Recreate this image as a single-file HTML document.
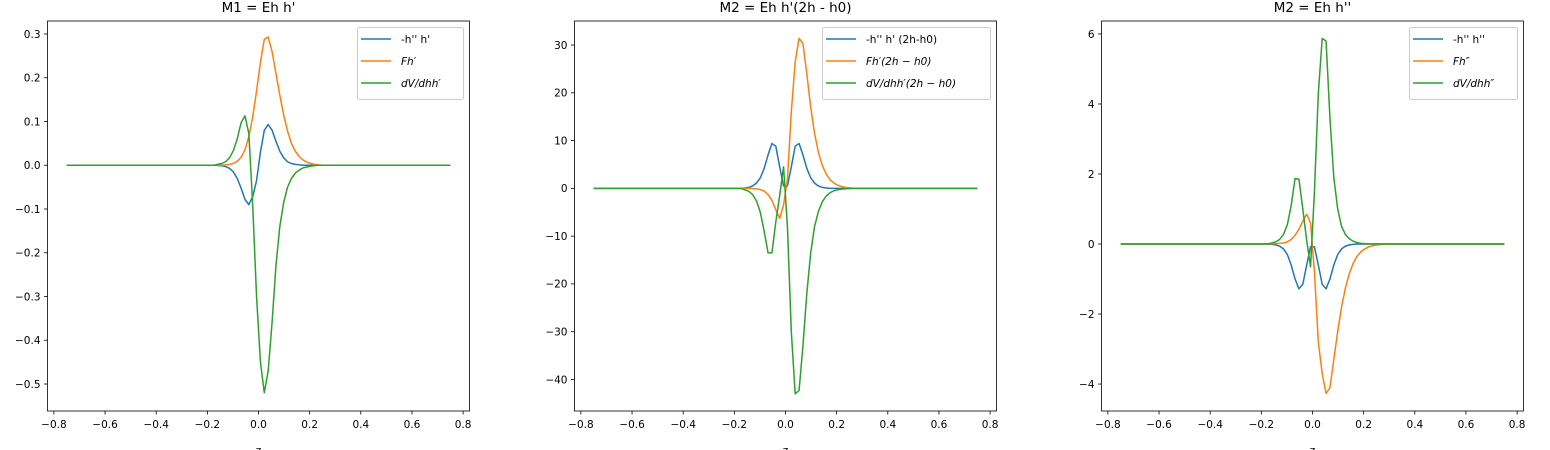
<!DOCTYPE html>
<html><head><meta charset="utf-8">
<style>
html,body{margin:0;padding:0;background:#fff;}
svg{display:block;font-family:"DejaVu Sans","Liberation Sans",sans-serif;}
</style></head>
<body>
<svg id="fig" width="1550" height="450" viewBox="0 0 1550 450"></svg>
<script>
const z = [-0.75,
 -0.3106,-0.2955,-0.2803,-0.2652,-0.25,-0.2348,-0.2197,-0.2045,-0.1894,-0.1742,
 -0.1591,-0.1439,-0.1288,-0.1136,-0.0985,-0.0833,-0.0682,-0.053,-0.0379,-0.0227,-0.0076,
 0.0076,0.0227,0.0379,0.053,0.0682,0.0833,0.0985,0.1136,0.1288,0.1439,0.1591,
 0.1742,0.1894,0.2045,0.2197,0.2348,0.25,0.2652,0.2803,0.2955,0.3106,
 0.75];
const Z11 = [0,0,0,0,0,0,0,0,0,0,0];
// Panel 1: M1 = Eh h'
const p1Blue = [...Z11,
 -0.0005,-0.001,-0.003,-0.007,-0.015,-0.03,-0.052,-0.078,-0.09,-0.072,-0.035,
 0.03,0.08,0.093,0.08,0.055,0.032,0.017,0.008,0.004,0.002,0.001,
 0,0,0,0,0,0,0,0,0,0,0];
const p1Orange = [...Z11,
 0,0,0.001,0.002,0.004,0.009,0.018,0.035,0.065,0.11,0.17,
 0.235,0.288,0.293,0.26,0.21,0.16,0.115,0.078,0.05,0.032,0.02,
 0.012,0.007,0.004,0.002,0.001,0,0,0,0,0,0];
const p1Green = [...Z11,
 0.002,0.004,0.008,0.017,0.033,0.06,0.097,0.113,0.073,-0.09,-0.30,
 -0.45,-0.52,-0.47,-0.36,-0.23,-0.14,-0.085,-0.05,-0.03,-0.018,-0.011,
 -0.006,-0.004,-0.002,-0.001,0,0,0,0,0,0,0];
// Panel 2: M2 = Eh h'(2h - h0)
const p2Blue = [...Z11,
 0.08,0.2,0.5,1.1,2.2,4.2,7,9.4,8.8,4.5,0.5,
 0.5,4.5,8.8,9.4,7,4.2,2.2,1.1,0.5,0.2,0.08,
 0,0,0,0,0,0,0,0,0,0,0];
const p2Orange = [...Z11,
 0,0,-0.03,-0.1,-0.25,-0.6,-1.3,-2.5,-4.5,-6.3,-3.5,
 2,16,26.5,31.4,30.3,24,17,11.5,7.5,4.8,3,
 1.8,1.1,0.65,0.38,0.2,0.1,0.05,0,0,0,0];
const p2Green = [...Z11,
 -0.3,-0.6,-1.3,-2.6,-5,-9,-13.5,-13.5,-7,-1.5,4.5,
 -8,-30,-43,-42.3,-33,-22,-13.5,-8,-4.8,-2.8,-1.6,
 -0.9,-0.5,-0.28,-0.15,-0.08,-0.04,0,0,0,0,0];
// Panel 3: M2 = Eh h''
const p3Blue = [...Z11,
 -0.01,-0.025,-0.06,-0.14,-0.3,-0.6,-1.0,-1.28,-1.15,-0.6,-0.08,
 -0.08,-0.6,-1.15,-1.28,-1.0,-0.6,-0.3,-0.14,-0.06,-0.025,-0.01,
 0,0,0,0,0,0,0,0,0,0,0];
const p3Orange = [...Z11,
 0.005,0.01,0.02,0.03,0.06,0.13,0.25,0.42,0.65,0.85,0.6,
 -0.8,-2.8,-3.7,-4.27,-4.1,-3.3,-2.5,-1.8,-1.25,-0.85,-0.55,
 -0.35,-0.22,-0.14,-0.08,-0.05,-0.03,-0.015,-0.008,0,0,0];
const p3Green = [...Z11,
 0.03,0.06,0.13,0.27,0.55,1.1,1.87,1.85,1.0,0.1,-0.65,
 1.5,4.3,5.87,5.8,3.6,1.9,1.0,0.5,0.27,0.15,0.08,
 0.04,0.02,0.01,0,0,0,0,0,0,0,0];

const xTicks = [-0.8,-0.6,-0.4,-0.2,0.0,0.2,0.4,0.6,0.8];
const xTickLabels = ["\u22120.8","\u22120.6","\u22120.4","\u22120.2","0.0","0.2","0.4","0.6","0.8"];
const p1YTicks = [-0.5,-0.4,-0.3,-0.2,-0.1,0.0,0.1,0.2,0.3];
const p2YTicks = [-40,-30,-20,-10,0,10,20,30];
const p3YTicks = [-4,-2,0,2,4,6];
const titles = ["M1 = Eh h'","M2 = Eh h'(2h - h0)","M2 = Eh h''"];

const NS="http://www.w3.org/2000/svg";
const svg=document.getElementById('fig');
function mk(tag,attrs,parent){const e=document.createElementNS(NS,tag);for(const k in attrs)e.setAttribute(k,attrs[k]);(parent||svg).appendChild(e);return e;}
const colors=["#1f77b4","#ff7f0e","#2ca02c"];

function fmtY(v,dec){let s=v.toFixed(dec);if(v<0)s="\u2212"+s.slice(1);return s;}

const panels=[
 {left:47.5,series:[p1Blue,p1Orange,p1Green],ymin:-0.5617,ymax:0.3297,yt:p1YTicks,dec:1,
  legend:{x:357,w:106,labels:[["-h'' h'",false],["Fh\u2032",true],["dV/dhh\u2032",true]]}},
 {left:574.5,series:[p2Blue,p2Orange,p2Green],ymin:-46.6,ymax:35.03,yt:p2YTicks,dec:0,
  legend:{x:822,w:168,labels:[["-h'' h' (2h-h0)",false],["Fh\u2032(2h \u2212 h0)",true],["dV/dhh\u2032(2h \u2212 h0)",true]]}},
 {left:1101.5,series:[p3Blue,p3Orange,p3Green],ymin:-4.77,ymax:6.37,yt:p3YTicks,dec:0,
  legend:{x:1409,w:108,labels:[["-h'' h''",false],["Fh\u2033",true],["dV/dhh\u2033",true]]}}
];
const axTop=21, axBottom=411, W=422;

panels.forEach((p,pi)=>{
  const g=mk('g',{});
  
  
  const xmin=-0.825,xmax=0.825;
  const X=v=>p.left+(v-xmin)/(xmax-xmin)*W;
  const Y=v=>axBottom-(v-p.ymin)/(p.ymax-p.ymin)*(axBottom-axTop);
  const t=mk('text',{x:p.left+W/2,y:12,'text-anchor':'middle','font-size':'13.5',fill:'#000'},g);
  t.textContent=titles[pi];
  
  
  const sg=mk('g',{},g);
  p.series.forEach((s,si)=>{
    const d=s.map((v,i)=>(i?'L':'M')+X(z[i]).toFixed(2)+' '+Y(v).toFixed(2)).join(' ');
    const path=mk('path',{d:d,fill:'none',stroke:colors[si],'stroke-width':1.5,'stroke-linejoin':'round'},sg);
    
    
  });
  const fr=mk('rect',{x:p.left,y:axTop,width:W,height:axBottom-axTop,fill:'none',stroke:'#000','stroke-width':0.8},g);
  
  
  xTicks.forEach((v,i)=>{
    const x=X(v);
    mk('line',{x1:x,x2:x,y1:axBottom,y2:axBottom+3.5,stroke:'#000','stroke-width':0.8},g);
    const tl=mk('text',{x:x,y:axBottom+17,'text-anchor':'middle','font-size':'10.5',fill:'#000'},g);
    tl.textContent=xTickLabels[i];
    
    
  });
  const xl=mk('text',{x:p.left+W/2,y:axBottom+43,'text-anchor':'middle','font-size':'10.5',fill:'#000'},g);
  xl.textContent='z';
  
  
  p.yt.forEach(v=>{
    const y=Y(v);
    mk('line',{x1:p.left,x2:p.left-3.5,y1:y,y2:y,stroke:'#000','stroke-width':0.8},g);
    const tl=mk('text',{x:p.left-7,y:y+3.8,'text-anchor':'end','font-size':'10.5',fill:'#000'},g);
    tl.textContent=fmtY(v,p.dec);
    
    
  });
  const L=p.legend;
  const lg=mk('g',{},g);
  
  
  mk('rect',{x:L.x+0.5,y:27.5,width:L.w,height:72,rx:2,fill:'#fff','fill-opacity':0.8,stroke:'#ccc','stroke-width':1},lg);
  L.labels.forEach((lab,i)=>{
    const y=39+i*22;
    mk('line',{x1:L.x+4,x2:L.x+34,y1:y,y2:y,stroke:colors[i],'stroke-width':1.5},lg);
    const tx=mk('text',{x:L.x+44,y:y+4,'font-size':'10.5',fill:'#000','font-style':lab[1]?'italic':'normal'},lg);
    tx.textContent=lab[0];
    
    
  });
});
</script>
</body></html>
